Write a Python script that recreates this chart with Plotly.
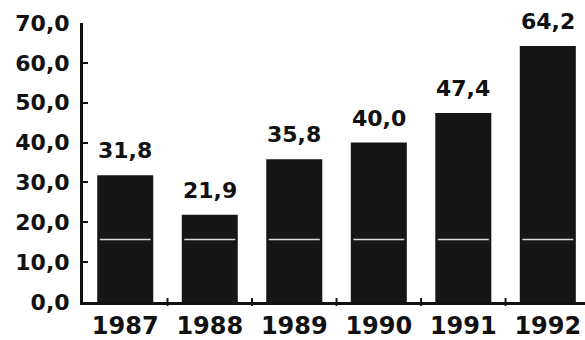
import plotly.graph_objects as go

# Annual values, 1987-1992
years = ["1987", "1988", "1989", "1990", "1991", "1992"]
values = [31.8, 21.9, 35.8, 40.0, 47.4, 64.2]
value_labels = ["31,8", "21,9", "35,8", "40,0", "47,4", "64,2"]
y_ticks = [0, 10, 20, 30, 40, 50, 60, 70]
y_tick_labels = ["0,0", "10,0", "20,0", "30,0", "40,0", "50,0", "60,0", "70,0"]
band_level = 15.7  # light streak running through every bar

FONT = "DejaVu Sans"
INK = "#111111"
BAR_GAP = 0.337

fig = go.Figure()
fig.add_trace(go.Bar(
    x=list(range(len(years))),
    y=values,
    marker=dict(color="#161616", line=dict(width=0)),
    hoverinfo="skip",
))

# value labels above the bars
for i, (v, lab) in enumerate(zip(values, value_labels)):
    fig.add_annotation(
        x=i, y=v, text=f"<b>{lab}</b>", showarrow=False,
        xref="x", yref="y", yanchor="bottom", yshift=10,
        font=dict(family=FONT, size=22, color=INK),
    )

# pale streak inside each bar
half = (1 - BAR_GAP) / 2
for i in range(len(years)):
    fig.add_shape(
        type="line", xref="x", yref="y",
        x0=i - half + 0.03, x1=i + half - 0.03, y0=band_level, y1=band_level,
        line=dict(color="rgba(240,240,240,0.9)", width=1.5), layer="above",
    )

fig.update_layout(
    width=585, height=340,
    margin=dict(l=83, r=0, t=23, b=36),
    paper_bgcolor="#ffffff", plot_bgcolor="#ffffff",
    bargap=BAR_GAP, showlegend=False,
    font=dict(family=FONT, color=INK),
)
fig.update_xaxes(
    range=[-0.5, 5.44],
    tickmode="array", tickvals=list(range(len(years))),
    ticktext=[f"<b>{y}</b>" for y in years],
    tickfont=dict(family=FONT, size=24, color=INK),
    showline=True, linecolor=INK, linewidth=3,
    ticks="", showgrid=False, zeroline=False, fixedrange=True,
)
fig.update_yaxes(
    range=[0, 70],
    tickmode="array", tickvals=y_ticks,
    ticktext=[f"<b>{t}</b>" for t in y_tick_labels],
    tickfont=dict(family=FONT, size=22, color=INK),
    showline=True, linecolor=INK, linewidth=3,
    ticks="inside", ticklen=5, tickwidth=2, tickcolor=INK,
    ticklabelstandoff=6,
    showgrid=False, zeroline=False, fixedrange=True,
)

# small tick marks on the baseline between the bars
for i in range(len(years) - 1):
    fig.add_shape(
        type="line", xref="x", yref="paper",
        x0=i + 0.5, x1=i + 0.5, y0=-0.014, y1=0.014,
        line=dict(color=INK, width=2),
    )

fig.write_html("out.html")
